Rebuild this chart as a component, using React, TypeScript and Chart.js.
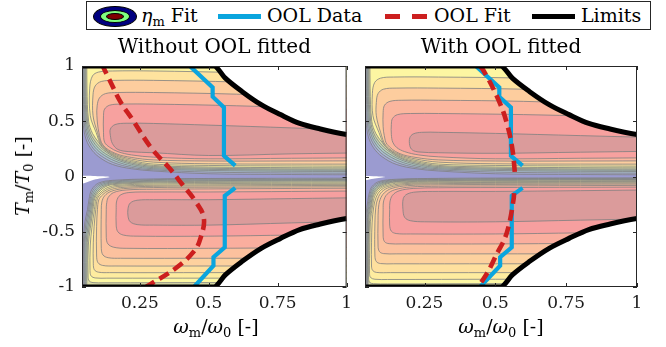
import React, { useEffect, useRef } from "react";
import { Chart, registerables } from "chart.js";

Chart.register(...registerables);

type P = [number, number];

// ---------- axes ----------
const X_MIN = 0.04;
const X_MAX = 1;
const Y_MIN = -1;
const Y_MAX = 1;
const xTickValues = [0.25, 0.5, 0.75, 1];
const xTickLabels = ["0.25", "0.5", "0.75", "1"];
const yTickValues = [-1, -0.5, 0, 0.5, 1];
const yTickLabels = ["-1", "-0.5", "0", "0.5", "1"];
const panelTitles = ["Without OOL fitted", "With OOL fitted"];

// ---------- limits ----------
const limitOmega = [0.04, 0.518, 0.56, 0.62, 0.69, 0.76, 0.83, 0.905, 1.0, 1.06];
const limitUpperT = [1, 1, 0.89, 0.77, 0.65, 0.56, 0.48, 0.43, 0.38, 0.36];
const limitLowerT = [-1, -1, -0.89, -0.77, -0.65, -0.56, -0.48, -0.43, -0.38, -0.36];

// ---------- OOL data (same in both panels) ----------
const oolDataUpperW = [0.431, 0.514, 0.514, 0.555, 0.555, 0.596];
const oolDataUpperT = [1.0, 0.806, 0.722, 0.625, 0.188, 0.098];
const oolDataLowerW = [0.596, 0.558, 0.558, 0.517, 0.517, 0.446];
const oolDataLowerT = [-0.103, -0.174, -0.641, -0.73, -0.807, -1.0];

// ---------- OOL fit ----------
const oolFitLeftW = [0.112, 0.119, 0.137, 0.179, 0.22, 0.292, 0.357, 0.405, 0.452, 0.482, 0.47, 0.446, 0.381, 0.286, 0.272];
const oolFitLeftT = [1.02, 0.98, 0.889, 0.678, 0.527, 0.256, 0.076, -0.075, -0.226, -0.376, -0.557, -0.678, -0.828, -0.978, -1.0];
const oolFitRightUpperW = [0.445, 0.457, 0.492, 0.528, 0.551, 0.563, 0.569];
const oolFitRightUpperT = [1.0, 0.964, 0.799, 0.587, 0.377, 0.196, 0.03];
const oolFitRightLowerW = [0.566, 0.565, 0.551, 0.534, 0.504, 0.475, 0.445, 0.44];
const oolFitRightLowerT = [-0.15, -0.195, -0.406, -0.557, -0.707, -0.858, -0.978, -1.0];

// ---------- efficiency contour levels (colours) ----------
const upperLevelColors = ["#a6abd6", "#a8bccf", "#accbc4", "#bfd2b4", "#d9dba6", "#fdf6a2", "#fee39e", "#fdcd9e", "#fbb69e", "#f7a19f", "#db9b9b"];
const lowerLevelColors = ["#a6abd6", "#a8bccf", "#accbc4", "#bfd2b4", "#d9dba6", "#fdf8a3", "#feec9f", "#fee09e", "#fdd19e", "#fcc19e", "#faae9e", "#f69f9f", "#db9b9b"];
const lowestLevelColor = "#9b9bd0";

// ---------- contours, left panel (eta fit without OOL) ----------
const upperDenseContours: P[][] = [
  [[0.042,1.3],[0.042,0.8],[0.044,0.5],[0.052,0.36],[0.07,0.26],[0.1,0.18],[0.15,0.11],[0.22,0.07],[0.3,0.05],[0.5,0.025],[0.8,0.018],[1.1,0.015]],
  [[0.045,1.3],[0.045,0.8],[0.048,0.5],[0.057,0.37],[0.076,0.27],[0.105,0.195],[0.155,0.125],[0.22,0.082],[0.3,0.06],[0.5,0.04],[0.8,0.032],[1.1,0.03]],
  [[0.048,1.3],[0.048,0.8],[0.052,0.5],[0.062,0.375],[0.082,0.28],[0.11,0.21],[0.16,0.14],[0.22,0.096],[0.3,0.07],[0.5,0.055],[0.8,0.047],[1.1,0.045]],
  [[0.051,1.3],[0.051,0.8],[0.056,0.5],[0.067,0.38],[0.088,0.29],[0.114,0.225],[0.163,0.155],[0.22,0.11],[0.3,0.08],[0.5,0.065],[0.8,0.058],[1.1,0.056]],
  [[0.054,1.3],[0.054,0.8],[0.06,0.5],[0.072,0.385],[0.094,0.3],[0.118,0.24],[0.166,0.165],[0.22,0.122],[0.3,0.09],[0.5,0.075],[0.8,0.068],[1.1,0.066]],
  [[0.058,1.3],[0.058,0.8],[0.064,0.5],[0.078,0.39],[0.1,0.31],[0.12,0.25],[0.168,0.172],[0.22,0.134],[0.3,0.1],[0.5,0.086],[0.8,0.08],[1.1,0.078]],
];
const leftUpperContours: P[][] = [
  ...upperDenseContours,
  [[1.1,0.9],[0.6,0.94],[0.3,0.955],[0.15,0.955],[0.1,0.945],[0.078,0.91],[0.068,0.8],[0.07,0.55],[0.091,0.4],[0.112,0.275],[0.16,0.19],[0.22,0.145],[0.3,0.112],[0.5,0.1],[0.8,0.095],[1.1,0.093]],
  [[1.1,0.81],[0.6,0.855],[0.3,0.87],[0.16,0.87],[0.11,0.86],[0.088,0.82],[0.08,0.74],[0.08,0.55],[0.096,0.4],[0.114,0.28],[0.16,0.2],[0.22,0.158],[0.3,0.13],[0.5,0.115],[0.8,0.112],[1.1,0.112]],
  [[1.1,0.7],[0.6,0.745],[0.3,0.76],[0.17,0.76],[0.125,0.75],[0.103,0.71],[0.095,0.64],[0.094,0.55],[0.101,0.4],[0.116,0.285],[0.16,0.21],[0.22,0.172],[0.3,0.15],[0.5,0.14],[0.8,0.14],[1.1,0.142]],
  [[1.1,0.6],[0.6,0.64],[0.3,0.655],[0.18,0.655],[0.14,0.645],[0.122,0.61],[0.118,0.55],[0.118,0.4],[0.122,0.31],[0.14,0.265],[0.17,0.225],[0.22,0.195],[0.3,0.175],[0.5,0.16],[0.8,0.165],[1.1,0.17]],
  [[1.1,0.41],[0.8,0.44],[0.5,0.465],[0.3,0.48],[0.2,0.482],[0.16,0.47],[0.143,0.43],[0.143,0.37],[0.15,0.3],[0.17,0.245],[0.21,0.225],[0.3,0.215],[0.5,0.19],[0.8,0.205],[1.1,0.215]],
];
const leftLowerContours: P[][] = [
  [[1.1,-0.015],[0.5,-0.018],[0.3,-0.022],[0.15,-0.035],[0.1,-0.06],[0.075,-0.12],[0.066,-0.2],[0.06,-0.3],[0.05,-0.42],[0.045,-0.6],[0.044,-1.3]],
  [[1.1,-0.021],[0.5,-0.024],[0.3,-0.028],[0.15,-0.042],[0.104,-0.068],[0.08,-0.125],[0.07,-0.2],[0.064,-0.3],[0.054,-0.43],[0.048,-0.6],[0.047,-1.3]],
  [[1.1,-0.027],[0.5,-0.03],[0.3,-0.035],[0.15,-0.05],[0.108,-0.076],[0.085,-0.13],[0.074,-0.2],[0.068,-0.3],[0.058,-0.44],[0.051,-0.6],[0.05,-1.3]],
  [[1.1,-0.033],[0.5,-0.037],[0.3,-0.042],[0.15,-0.058],[0.112,-0.084],[0.09,-0.135],[0.078,-0.2],[0.072,-0.3],[0.062,-0.45],[0.055,-0.6],[0.053,-1.3]],
  [[1.1,-0.04],[0.5,-0.044],[0.3,-0.049],[0.15,-0.066],[0.116,-0.092],[0.095,-0.14],[0.082,-0.2],[0.076,-0.3],[0.066,-0.46],[0.059,-0.6],[0.057,-1.3]],
  [[1.1,-0.05],[0.5,-0.054],[0.3,-0.058],[0.15,-0.074],[0.12,-0.1],[0.1,-0.145],[0.086,-0.2],[0.08,-0.3],[0.07,-0.47],[0.063,-0.62],[0.062,-0.9],[0.066,-0.945],[0.08,-0.96],[0.12,-0.962],[0.5,-0.96],[1.1,-0.96]],
  [[1.1,-0.06],[0.5,-0.064],[0.3,-0.068],[0.16,-0.082],[0.126,-0.108],[0.105,-0.15],[0.091,-0.2],[0.085,-0.3],[0.076,-0.46],[0.07,-0.62],[0.069,-0.85],[0.073,-0.9],[0.088,-0.918],[0.13,-0.92],[0.5,-0.92],[1.1,-0.92]],
  [[1.1,-0.07],[0.5,-0.075],[0.3,-0.079],[0.17,-0.09],[0.132,-0.116],[0.11,-0.155],[0.096,-0.2],[0.09,-0.3],[0.084,-0.45],[0.081,-0.6],[0.081,-0.79],[0.085,-0.845],[0.1,-0.866],[0.14,-0.87],[0.5,-0.87],[1.1,-0.87]],
  [[1.1,-0.08],[0.5,-0.085],[0.3,-0.089],[0.18,-0.1],[0.138,-0.125],[0.115,-0.165],[0.101,-0.21],[0.096,-0.3],[0.093,-0.45],[0.093,-0.72],[0.098,-0.78],[0.115,-0.805],[0.16,-0.81],[0.5,-0.81],[1.1,-0.81]],
  [[1.1,-0.092],[0.5,-0.097],[0.3,-0.1],[0.19,-0.11],[0.145,-0.135],[0.122,-0.175],[0.112,-0.23],[0.11,-0.3],[0.11,-0.65],[0.116,-0.71],[0.135,-0.735],[0.18,-0.74],[0.5,-0.74],[1.1,-0.74]],
  [[1.1,-0.105],[0.5,-0.112],[0.3,-0.115],[0.2,-0.122],[0.155,-0.145],[0.135,-0.19],[0.129,-0.25],[0.128,-0.3],[0.128,-0.55],[0.134,-0.61],[0.155,-0.64],[0.2,-0.65],[0.5,-0.65],[1.1,-0.64]],
  [[1.1,-0.13],[0.5,-0.14],[0.3,-0.14],[0.21,-0.145],[0.178,-0.17],[0.166,-0.22],[0.164,-0.3],[0.164,-0.44],[0.17,-0.5],[0.19,-0.53],[0.24,-0.54],[0.5,-0.54],[0.8,-0.53],[1.1,-0.52]],
  [[1.1,-0.19],[0.8,-0.2],[0.5,-0.21],[0.3,-0.21],[0.24,-0.215],[0.215,-0.24],[0.207,-0.29],[0.207,-0.36],[0.215,-0.41],[0.24,-0.435],[0.3,-0.44],[0.5,-0.44],[0.8,-0.42],[1.1,-0.4]],
];
const leftWedge: P[] = [[0.03,0.006],[0.08,0.004],[0.14,-0.004],[0.09,-0.025],[0.06,-0.05],[0.03,-0.075]];

// ---------- contours, right panel (eta fit with OOL) ----------
const rightUpperContours: P[][] = [
  ...upperDenseContours,
  [[1.1,0.85],[0.6,0.89],[0.3,0.9],[0.14,0.9],[0.095,0.89],[0.074,0.85],[0.066,0.75],[0.068,0.55],[0.089,0.4],[0.112,0.275],[0.16,0.19],[0.22,0.145],[0.3,0.112],[0.5,0.1],[0.8,0.095],[1.1,0.093]],
  [[1.1,0.75],[0.6,0.79],[0.3,0.8],[0.15,0.8],[0.105,0.79],[0.086,0.75],[0.08,0.67],[0.08,0.55],[0.095,0.4],[0.114,0.28],[0.16,0.2],[0.22,0.158],[0.3,0.13],[0.5,0.115],[0.8,0.112],[1.1,0.112]],
  [[1.1,0.64],[0.6,0.68],[0.3,0.69],[0.17,0.69],[0.128,0.68],[0.109,0.645],[0.104,0.58],[0.104,0.45],[0.108,0.37],[0.118,0.29],[0.16,0.21],[0.22,0.172],[0.3,0.15],[0.5,0.14],[0.8,0.14],[1.1,0.142]],
  [[1.1,0.53],[0.6,0.56],[0.3,0.57],[0.2,0.57],[0.155,0.56],[0.137,0.525],[0.133,0.47],[0.133,0.38],[0.138,0.31],[0.152,0.262],[0.18,0.225],[0.23,0.195],[0.3,0.178],[0.5,0.16],[0.8,0.165],[1.1,0.17]],
  [[1.1,0.35],[0.8,0.37],[0.5,0.39],[0.3,0.4],[0.24,0.4],[0.21,0.385],[0.198,0.35],[0.198,0.28],[0.207,0.24],[0.23,0.222],[0.3,0.215],[0.5,0.21],[0.8,0.22],[1.1,0.23]],
];
const rightLowerContours: P[][] = [
  [[1.1,-0.012],[0.5,-0.014],[0.3,-0.017],[0.15,-0.025],[0.09,-0.045],[0.065,-0.09],[0.055,-0.15],[0.05,-0.22],[0.044,-0.35],[0.043,-1.3]],
  [[1.1,-0.017],[0.5,-0.019],[0.3,-0.022],[0.15,-0.03],[0.094,-0.051],[0.069,-0.095],[0.058,-0.155],[0.053,-0.225],[0.047,-0.36],[0.045,-1.3]],
  [[1.1,-0.022],[0.5,-0.024],[0.3,-0.027],[0.15,-0.035],[0.098,-0.057],[0.073,-0.1],[0.061,-0.16],[0.056,-0.23],[0.049,-0.37],[0.047,-1.3]],
  [[1.1,-0.027],[0.5,-0.029],[0.3,-0.032],[0.15,-0.04],[0.102,-0.063],[0.077,-0.105],[0.064,-0.165],[0.059,-0.235],[0.051,-0.38],[0.049,-1.3]],
  [[1.1,-0.032],[0.5,-0.034],[0.3,-0.037],[0.15,-0.045],[0.106,-0.069],[0.081,-0.11],[0.067,-0.17],[0.062,-0.24],[0.053,-0.39],[0.051,-1.3]],
  [[1.1,-0.038],[0.5,-0.04],[0.3,-0.043],[0.15,-0.051],[0.11,-0.075],[0.085,-0.115],[0.07,-0.175],[0.064,-0.25],[0.056,-0.4],[0.054,-0.6],[0.053,-0.93],[0.057,-0.96],[0.07,-0.97],[0.12,-0.972],[0.5,-0.97],[1.1,-0.97]],
  [[1.1,-0.044],[0.5,-0.047],[0.3,-0.05],[0.16,-0.058],[0.115,-0.082],[0.089,-0.12],[0.074,-0.18],[0.067,-0.26],[0.059,-0.41],[0.057,-0.6],[0.056,-0.88],[0.06,-0.915],[0.075,-0.93],[0.12,-0.932],[0.5,-0.93],[1.1,-0.93]],
  [[1.1,-0.051],[0.5,-0.054],[0.3,-0.057],[0.17,-0.066],[0.12,-0.09],[0.094,-0.128],[0.079,-0.19],[0.071,-0.27],[0.065,-0.42],[0.063,-0.6],[0.063,-0.81],[0.067,-0.85],[0.08,-0.868],[0.13,-0.87],[0.5,-0.87],[1.1,-0.87]],
  [[1.1,-0.059],[0.5,-0.062],[0.3,-0.065],[0.18,-0.074],[0.127,-0.098],[0.1,-0.137],[0.085,-0.2],[0.078,-0.28],[0.075,-0.42],[0.075,-0.72],[0.08,-0.77],[0.095,-0.788],[0.14,-0.79],[0.5,-0.79],[1.1,-0.79]],
  [[1.1,-0.068],[0.5,-0.072],[0.3,-0.075],[0.19,-0.083],[0.135,-0.107],[0.108,-0.148],[0.093,-0.21],[0.087,-0.3],[0.086,-0.4],[0.086,-0.63],[0.091,-0.68],[0.106,-0.698],[0.15,-0.7],[0.5,-0.7],[1.1,-0.7]],
  [[1.1,-0.08],[0.5,-0.085],[0.3,-0.088],[0.2,-0.095],[0.145,-0.12],[0.118,-0.16],[0.106,-0.22],[0.104,-0.3],[0.104,-0.54],[0.109,-0.59],[0.125,-0.608],[0.17,-0.61],[0.5,-0.61],[1.1,-0.6]],
  [[1.1,-0.095],[0.5,-0.1],[0.3,-0.102],[0.21,-0.108],[0.16,-0.13],[0.137,-0.17],[0.128,-0.23],[0.127,-0.3],[0.127,-0.44],[0.133,-0.495],[0.15,-0.516],[0.2,-0.52],[0.5,-0.52],[0.8,-0.51],[1.1,-0.5]],
  [[1.1,-0.12],[0.8,-0.128],[0.5,-0.135],[0.3,-0.135],[0.22,-0.14],[0.188,-0.16],[0.175,-0.2],[0.174,-0.3],[0.18,-0.37],[0.2,-0.4],[0.25,-0.41],[0.5,-0.41],[0.8,-0.395],[1.1,-0.38]],
];
const rightWedge: P[] = [[0.03,0.005],[0.07,0.002],[0.11,-0.004],[0.07,-0.02],[0.03,-0.04]];

// ---------- styles ----------
const CYAN = "#0aa5de";
const RED = "#cc1f1f";
const CONTOUR_STROKE = "rgba(128,128,128,0.8)";
const SERIF = "'DejaVu Serif', serif";

const zip = (xs: number[], ys: number[]) => xs.map((x, i) => ({ x, y: ys[i] }));
const toXY = (pts: P[]) => pts.map(([x, y]) => ({ x, y }));

function closeUpper(pts: P[]): P[] {
  const f = pts[0], l = pts[pts.length - 1];
  if (f[1] >= 1.2) return [[1.2, 1.5], [f[0], 1.5], ...pts, [1.2, l[1]]];
  return pts;
}
function closeLower(pts: P[]): P[] {
  const f = pts[0], l = pts[pts.length - 1];
  if (l[1] <= -1.2) return [[1.2, f[1]], ...pts, [l[0], -1.5], [1.2, -1.5]];
  return pts;
}

function poly(pts: P[], color: string, stroke: boolean, tension = 0.35) {
  return {
    data: toXY(pts),
    backgroundColor: color,
    borderColor: stroke ? CONTOUR_STROKE : "rgba(0,0,0,0)",
    borderWidth: stroke ? 1 : 0,
    fill: "shape",
    tension,
    pointRadius: 0,
  };
}

const framePlugin = {
  id: "frameTicks",
  afterDatasetsDraw(chart: any) {
    const { ctx, chartArea: a, scales } = chart;
    ctx.save();
    ctx.strokeStyle = "#262626";
    ctx.lineWidth = 1;
    ctx.strokeRect(a.left + 0.5, a.top + 0.5, a.right - a.left - 1, a.bottom - a.top - 1);
    ctx.beginPath();
    const len = 4;
    for (const v of xTickValues) {
      const px = Math.round(scales.x.getPixelForValue(v)) + 0.5;
      ctx.moveTo(px, a.bottom); ctx.lineTo(px, a.bottom - len);
      ctx.moveTo(px, a.top); ctx.lineTo(px, a.top + len);
    }
    for (const v of yTickValues) {
      const py = Math.round(scales.y.getPixelForValue(v)) + 0.5;
      ctx.moveTo(a.left, py); ctx.lineTo(a.left + len, py);
      ctx.moveTo(a.right, py); ctx.lineTo(a.right - len, py);
    }
    ctx.stroke();
    ctx.restore();
  },
};

type Panel = {
  title: string;
  upper: P[][];
  lower: P[][];
  wedge: P[];
  fit: { x: number; y: number }[][];
  fitTension: number;
  isLeft: boolean;
};

function makeConfig(p: Panel): any {
  const ds: any[] = [];
  ds.push(poly([[-0.2, 1.5], [1.3, 1.5], [1.3, -1.5], [-0.2, -1.5]], lowestLevelColor, false, 0));
  p.upper.forEach((pts, i) => ds.push(poly(closeUpper(pts), upperLevelColors[i], true)));
  p.lower.forEach((pts, i) => ds.push(poly(closeLower(pts), lowerLevelColors[i], true)));
  ds.push(poly(p.wedge, "#ffffff", false, 0.3));
  [zip(oolDataUpperW, oolDataUpperT), zip(oolDataLowerW, oolDataLowerT)].forEach((d) =>
    ds.push({ data: d, borderColor: CYAN, borderWidth: 4.2, fill: false, tension: 0, pointRadius: 0, borderJoinStyle: "miter" })
  );
  p.fit.forEach((d) =>
    ds.push({ data: d, borderColor: RED, borderWidth: 4.6, borderDash: [11, 6], fill: false, tension: p.fitTension, pointRadius: 0 })
  );
  ds.push({ data: zip(limitOmega, limitUpperT), borderColor: "#000", backgroundColor: "#fff", borderWidth: 5, fill: "end", cubicInterpolationMode: "monotone", pointRadius: 0 });
  ds.push({ data: zip(limitOmega, limitLowerT), borderColor: "#000", backgroundColor: "#fff", borderWidth: 5, fill: "start", cubicInterpolationMode: "monotone", pointRadius: 0 });
  const n = ds.length;
  ds.forEach((d, i) => (d.order = n - i));

  const tickFont = { family: SERIF, size: 17 };
  return {
    type: "line",
    data: { datasets: ds },
    plugins: [framePlugin],
    options: {
      animation: false,
      responsive: false,
      devicePixelRatio: 1,
      events: [],
      elements: { line: { capBezierPoints: false }, point: { radius: 0 } },
      layout: { padding: { top: 36, right: p.isLeft ? 8 : 29, bottom: 0, left: 0 } },
      plugins: {
        legend: { display: false },
        tooltip: { enabled: false },
        title: {
          display: true,
          text: p.title,
          fullSize: false,
          color: "#000",
          font: { family: SERIF, size: 20, weight: "normal", lineHeight: 1.2 },
          padding: { top: 0, bottom: 30 - 20 * 1.2 },
        },
      },
      scales: {
        x: {
          type: "linear",
          min: X_MIN,
          max: X_MAX,
          afterBuildTicks: (s: any) => { s.ticks = xTickValues.map((v) => ({ value: v })); },
          afterFit: (s: any) => { s.height = 60; },
          grid: { display: false, drawTicks: false },
          border: { display: false },
          ticks: { font: tickFont, color: "#1a1a1a", padding: 6, maxRotation: 0, autoSkip: false, callback: (_v: any, i: number) => xTickLabels[i] },
        },
        y: {
          type: "linear",
          min: Y_MIN,
          max: Y_MAX,
          afterBuildTicks: (s: any) => { s.ticks = yTickValues.map((v) => ({ value: v })); },
          afterFit: (s: any) => { s.width = p.isLeft ? 82 : 7; },
          grid: { display: false, drawTicks: false },
          border: { display: false },
          ticks: { display: p.isLeft, font: tickFont, color: "#1a1a1a", padding: 7, autoSkip: false, callback: (_v: any, i: number) => yTickLabels[i] },
        },
      },
    },
  };
}

const leftPanel: Panel = {
  title: panelTitles[0],
  upper: leftUpperContours,
  lower: leftLowerContours,
  wedge: leftWedge,
  fit: [zip(oolFitLeftW, oolFitLeftT)],
  fitTension: 0.4,
  isLeft: true,
};
const rightPanel: Panel = {
  title: panelTitles[1],
  upper: rightUpperContours,
  lower: rightLowerContours,
  wedge: rightWedge,
  fit: [zip(oolFitRightUpperW, oolFitRightUpperT), zip(oolFitRightLowerW, oolFitRightLowerT)],
  fitTension: 0.3,
  isLeft: false,
};

const abs = (l: number, t: number, extra: any = {}) => ({ position: "absolute" as const, left: l, top: t, ...extra });
const subStyle = { fontSize: 13, verticalAlign: "-4px", fontStyle: "normal" as const, lineHeight: 0 };
const txt = { fontFamily: SERIF, fontSize: 19, lineHeight: "22px", whiteSpace: "nowrap" as const, color: "#000" };

export default function App() {
  const leftRef = useRef<HTMLCanvasElement>(null);
  const rightRef = useRef<HTMLCanvasElement>(null);

  useEffect(() => {
    const c1 = new Chart(leftRef.current as HTMLCanvasElement, makeConfig(leftPanel));
    const c2 = new Chart(rightRef.current as HTMLCanvasElement, makeConfig(rightPanel));
    return () => { c1.destroy(); c2.destroy(); };
  }, []);

  return (
    <div style={{ position: "absolute", left: 0, top: 0, width: 666, height: 347, background: "#fff", overflow: "hidden", fontFamily: SERIF }}>
      <canvas ref={leftRef} width={358} height={347} style={abs(0, 0)} />
      <canvas ref={rightRef} width={308} height={347} style={abs(358, 0)} />

      {/* legend */}
      <div style={abs(86, 1, { width: 565, height: 29, border: "1px solid #262626", boxSizing: "border-box", background: "#fff" })} />
      <div style={abs(93, 5.5, { width: 44, height: 21, borderRadius: "50%", background: "#000080", border: "1px solid #000", boxSizing: "border-box" })} />
      <div style={abs(100, 9.5, { width: 30, height: 13, borderRadius: "50%", background: "#80ff80", border: "1px solid #000", boxSizing: "border-box" })} />
      <div style={abs(106, 12.5, { width: 18, height: 7, borderRadius: "50%", background: "#800000", border: "1px solid #000", boxSizing: "border-box" })} />
      <div style={abs(141, 4, txt)}><i>η</i><sub style={subStyle}>m</sub> Fit</div>
      <div style={abs(218, 14, { width: 43, height: 4.5, background: CYAN })} />
      <div style={abs(267, 4, txt)}>OOL Data</div>
      <div style={abs(385, 13.5, { width: 15, height: 5, background: RED })} />
      <div style={abs(412, 13.5, { width: 15, height: 5, background: RED })} />
      <div style={abs(434, 4, txt)}>OOL Fit</div>
      <div style={abs(532, 13.5, { width: 43, height: 5, background: "#000" })} />
      <div style={abs(581, 4, txt)}>Limits</div>

      {/* axis labels */}
      <div style={abs(216, 326, { ...txt, transform: "translate(-50%,-50%)" })}>
        <i>ω</i><sub style={subStyle}>m</sub>/<i>ω</i><sub style={subStyle}>0</sub> [-]
      </div>
      <div style={abs(501, 326, { ...txt, transform: "translate(-50%,-50%)" })}>
        <i>ω</i><sub style={subStyle}>m</sub>/<i>ω</i><sub style={subStyle}>0</sub> [-]
      </div>
      <div style={abs(22, 176, { ...txt, transform: "translate(-50%,-50%) rotate(-90deg)" })}>
        <i>T</i><sub style={subStyle}>m</sub>/<i>T</i><sub style={subStyle}>0</sub> [-]
      </div>
    </div>
  );
}
